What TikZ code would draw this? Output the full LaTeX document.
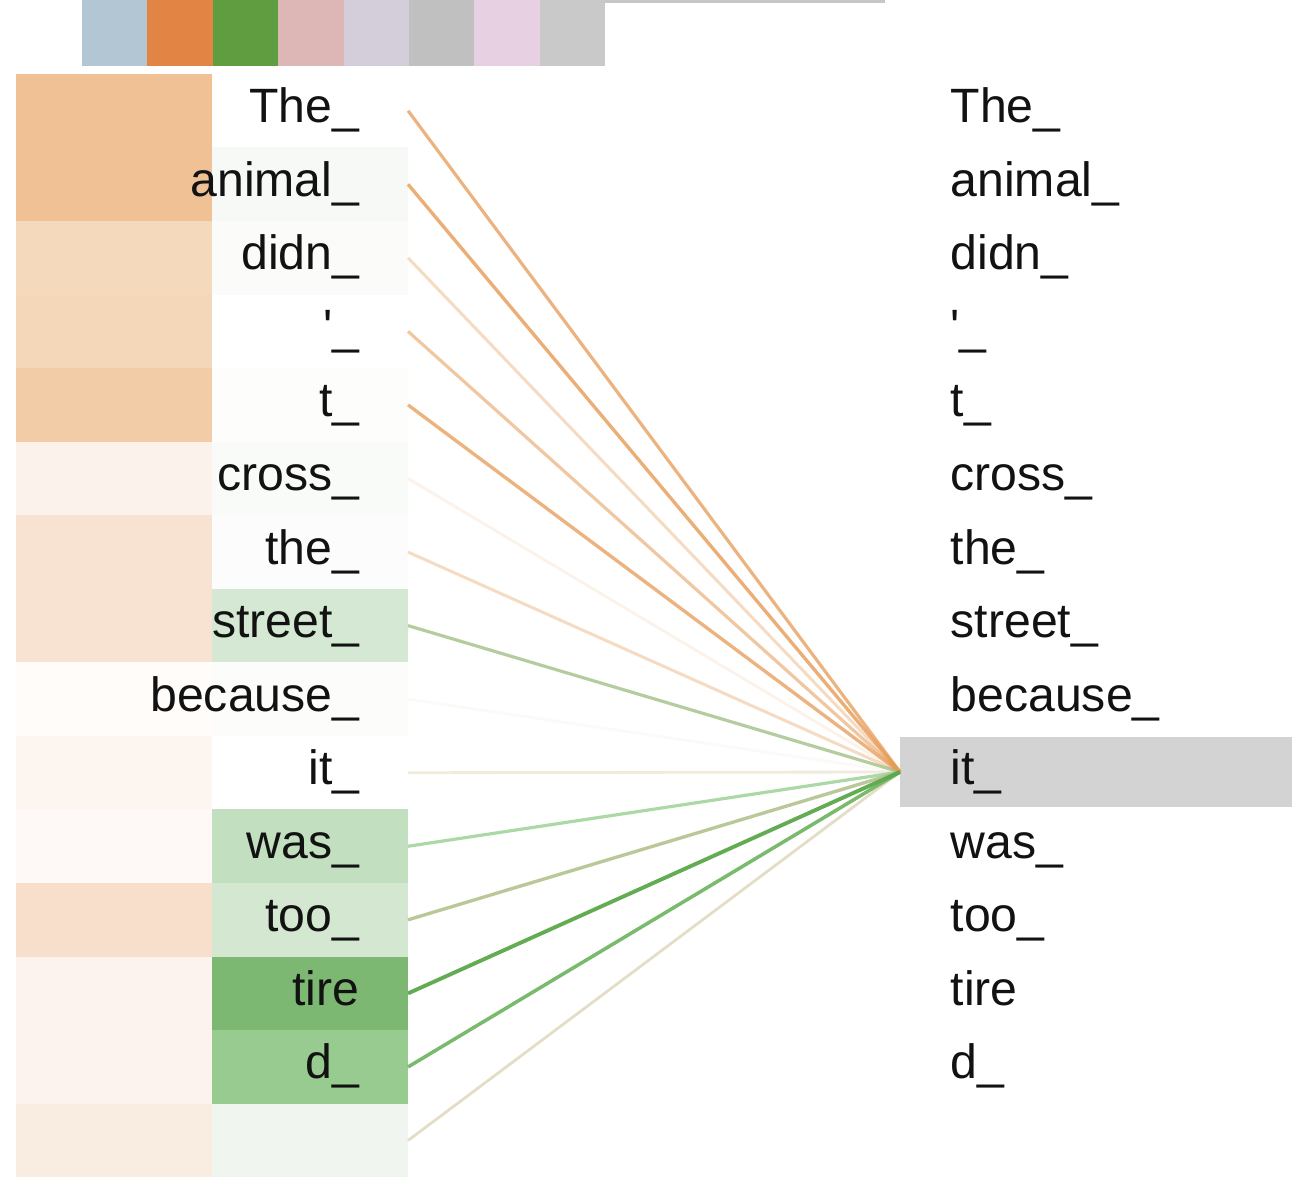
\documentclass[tikz,border=0pt]{standalone}
\usepackage{fontspec}
\setmainfont{Liberation Sans}[Ligatures=TeXOff]
\definecolor{sw0}{HTML}{B3C6D4}
\definecolor{sw1}{HTML}{E28444}
\definecolor{sw2}{HTML}{5F9D40}
\definecolor{sw3}{HTML}{DDB7B6}
\definecolor{sw4}{HTML}{D4CEDA}
\definecolor{sw5}{HTML}{C0C0C0}
\definecolor{sw6}{HTML}{E8D0E3}
\definecolor{sw7}{HTML}{C9C9C9}
\definecolor{o0}{HTML}{EFC195}
\definecolor{o2}{HTML}{F5D9BD}
\definecolor{o3}{HTML}{F4D6B8}
\definecolor{o4}{HTML}{F1CCA6}
\definecolor{o5}{HTML}{FBF2EC}
\definecolor{o6}{HTML}{F8E3D2}
\definecolor{o8}{HTML}{FFFCFA}
\definecolor{o9}{HTML}{FDF5EF}
\definecolor{o10}{HTML}{FEF9F6}
\definecolor{o11}{HTML}{F7DFCC}
\definecolor{o12}{HTML}{FCF3EE}
\definecolor{o14}{HTML}{F9ECE0}
\definecolor{g0}{HTML}{FFFFFF}
\definecolor{g1}{HTML}{F6F9F5}
\definecolor{g2}{HTML}{FBFCFA}
\definecolor{g4}{HTML}{FDFDFC}
\definecolor{g5}{HTML}{F8FBF7}
\definecolor{g6}{HTML}{FBFCFB}
\definecolor{g7}{HTML}{D4E8D3}
\definecolor{g8}{HTML}{FCFCFB}
\definecolor{g10}{HTML}{C2E0C0}
\definecolor{g11}{HTML}{D3E7D1}
\definecolor{g12}{HTML}{7DB873}
\definecolor{g13}{HTML}{98CB90}
\definecolor{g14}{HTML}{F0F6EF}
\definecolor{hl}{HTML}{D3D3D3}
\definecolor{lor}{HTML}{E69A55}
\definecolor{lst}{HTML}{9DBB80}
\definecolor{lit}{HTML}{EFE6D2}
\definecolor{lwas}{HTML}{8FCC88}
\definecolor{ltoo}{HTML}{AFBE88}
\definecolor{ltire}{HTML}{5BA84B}
\definecolor{ld}{HTML}{6BB35E}
\definecolor{lend}{HTML}{D9D0B0}
\begin{document}
\begin{tikzpicture}[x=0.01cm,y=-0.01cm,
  cell/.style={rectangle, inner sep=0, outer sep=0, minimum width=1.96cm, minimum height=0.736cm},
  tokl/.style={anchor=base east, inner sep=0, font=\fontsize{13.7pt}{16pt}\selectfont, text=black!93},
  tokr/.style={anchor=base west, inner sep=0, font=\fontsize{13.7pt}{16pt}\selectfont, text=black!93},
  swatch/.style={rectangle, inner sep=0, outer sep=0, minimum width=0.655cm, minimum height=0.66cm, anchor=north west},
  att/.style={line cap=butt}]
\useasboundingbox (0,0) rectangle (1306,1192);
\fill[white] (0,0) rectangle (1306,1192);
\draw[gray!45, line width=1.2pt] (130,1) -- (885,1);
\foreach \c [count=\k from 0] in {sw0,sw1,sw2,sw3,sw4,sw5,sw6,sw7}
  \node[swatch, fill=\c] (sw\k) at ({82+65.4*\k},0) {};
% cells
\foreach \i/\oc/\gc in {0/o0/g0,1/o0/g1,2/o2/g2,3/o3/g0,4/o4/g4,5/o5/g5,6/o6/g6,7/o6/g7,8/o8/g8,9/o9/g0,10/o10/g10,11/o11/g11,12/o12/g12,13/o12/g13,14/o14/g14}{
  \pgfmathsetmacro\yc{74+73.55*(\i+0.5)}
  \node[cell, fill=\oc] (o\i) at (114,\yc) {};
  \node[cell, fill=\gc] (g\i) at (310,\yc) {};
}
% focus highlight
\node[rectangle, fill=hl, inner sep=0, outer sep=0, minimum width=3.92cm, minimum height=0.70cm, anchor=west] (focus) at (900,772) {};
% tokens
\foreach \i/\tok in {0/The\_,1/animal\_,2/didn\_,3/'\_,4/t\_,5/cross\_,6/the\_,7/street\_,8/because\_,9/it\_,10/was\_,11/too\_,12/tire,13/d\_}{
  \pgfmathsetmacro\yb{74+73.55*(\i+0.5)+12}
  \node[tokl] (l\i) at (360,\yb) {\tok};
  \node[tokr] (r\i) at (950,\yb) {\tok};
}
% attention lines
\foreach \i/\lc/\op/\lw in {5/lor/0.12/0.8,8/lor/0.05/0.8,9/lit/0.8/0.8,14/lend/0.7/0.8,2/lor/0.35/0.85,6/lor/0.35/0.85,3/lor/0.55/0.9,7/lst/0.75/0.9,10/lwas/0.75/0.9,11/ltoo/0.85/0.95,0/lor/0.75/0.9,1/lor/0.8/0.95,4/lor/0.75/0.95,13/ld/0.9/1.0,12/ltire/0.95/1.1}
  \draw[att, draw=\lc, draw opacity=\op, line width=\lw pt] (g\i.east) -- (focus.west);
\end{tikzpicture}
\end{document}
